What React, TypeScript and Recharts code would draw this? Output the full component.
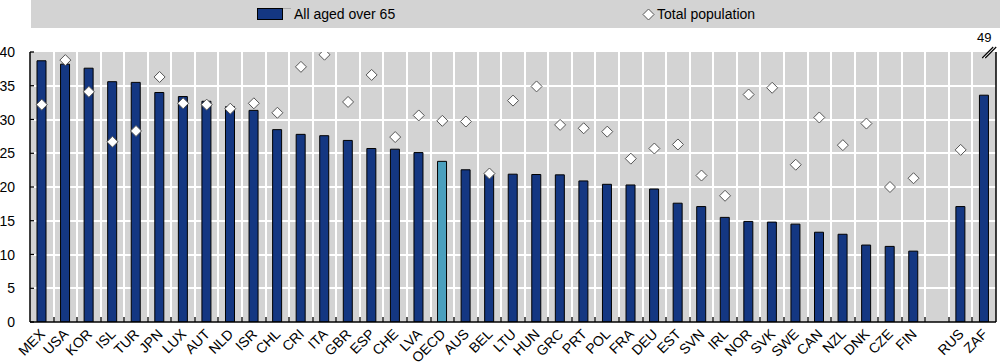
import React from 'react';
import {
  ComposedChart,
  Bar,
  Scatter,
  XAxis,
  YAxis,
  CartesianGrid,
  Cell,
  Legend,
  ReferenceDot,
} from 'recharts';

const categories = [
  'MEX', 'USA', 'KOR', 'ISL', 'TUR', 'JPN', 'LUX', 'AUT', 'NLD', 'ISR', 'CHL', 'CRI', 'ITA', 'GBR',
  'ESP', 'CHE', 'LVA', 'OECD', 'AUS', 'BEL', 'LTU', 'HUN', 'GRC', 'PRT', 'POL', 'FRA', 'DEU', 'EST',
  'SVN', 'IRL', 'NOR', 'SVK', 'SWE', 'CAN', 'NZL', 'DNK', 'CZE', 'FIN', '', 'RUS', 'ZAF',
];

const allAgedOver65: (number | null)[] = [
  38.7, 38.2, 37.6, 35.6, 35.5, 34.0, 33.4, 32.7, 31.9, 31.35, 28.5, 27.8, 27.6, 26.9,
  25.7, 25.6, 25.1, 23.8, 22.55, 22.0, 21.9, 21.85, 21.8, 20.9, 20.4, 20.3, 19.7, 17.6,
  17.1, 15.5, 14.9, 14.8, 14.5, 13.3, 13.0, 11.4, 11.2, 10.5, null, 17.1, 33.6,
];

const totalPopulation: (number | null)[] = [
  32.2, 38.8, 34.1, 26.7, 28.3, 36.3, 32.4, 32.2, 31.6, 32.4, 31.0, 37.8, 39.6, 32.6,
  36.6, 27.4, 30.6, 29.8, 29.7, 22.0, 32.8, 34.9, 29.2, 28.7, 28.2, 24.2, 25.7, 26.3,
  21.7, 18.7, 33.7, 34.7, 23.3, 30.3, 26.2, 29.4, 20.0, 21.3, null, 25.5, 49,
];

const yTicks = [0, 5, 10, 15, 20, 25, 30, 35, 40];
const Y_MAX = 40;
const highlight = 'OECD';

const NAVY = '#143782';
const TEAL = '#4ba0be';
const BG = '#d3d3d3';
const FONT = '"Liberation Sans", Arial, sans-serif';

const W = 1000;
const H = 362;
const MARGIN = { top: 52, right: 0, bottom: 0, left: 0 };
const Y_AXIS_W = 30;
const RIGHT_AXIS_W = 4;
const X_AXIS_H = 40;
const PLOT_W = W - Y_AXIS_W - RIGHT_AXIS_W;
const N = categories.length;
const HALF_BAND = PLOT_W / N / 2;

const data = categories.map((name, i) => {
  const t = totalPopulation[i];
  return {
    name,
    over65: allAgedOver65[i],
    total: t,
    totalShown: t != null && t <= Y_MAX ? t : null,
  };
});

const overflow = data.filter((d) => d.total != null && d.total > Y_MAX);
const innerYTicks = yTicks.filter((t) => t > 0 && t < Y_MAX);

const XTick = (props: any) => {
  const { x, y, payload, index } = props;
  const bx = Math.round(x - HALF_BAND);
  return (
    <g>
      {index > 0 && <line x1={bx} x2={bx} y1={y} y2={y - 5} stroke="#000" strokeWidth={1.3} />}
      {payload.value !== '' && (
        <text
          x={x + 4}
          y={y + 13}
          transform={`rotate(-45 ${x + 4} ${y + 13})`}
          textAnchor="end"
          fontSize={14}
          fontFamily={FONT}
          fill="#000"
        >
          {payload.value}
        </text>
      )}
    </g>
  );
};

const YTick = (props: any) => {
  const { x, y, payload } = props;
  return (
    <g>
      <line x1={x + 15} x2={x + 19} y1={y} y2={y} stroke="#000" strokeWidth={1.3} />
      <text x={x} y={y} dy={5} textAnchor="end" fontSize={14} fontFamily={FONT} fill="#000">
        {payload.value}
      </text>
    </g>
  );
};

const Diamond = (props: any) => {
  const { cx, cy, payload } = props;
  if (payload == null || payload.totalShown == null || !isFinite(cx) || !isFinite(cy)) return <g />;
  const r = 5.5;
  return (
    <polygon
      points={`${cx},${cy - r} ${cx + r},${cy} ${cx},${cy + r} ${cx - r},${cy}`}
      fill="#fff"
      stroke="#555"
      strokeWidth={1}
    />
  );
};

const BreakMark = (value: number) => (props: any) => {
  const { cx, cy } = props;
  return (
    <g>
      <polygon
        points={`${cx - 2},${cy + 6} ${cx + 9},${cy - 5} ${cx + 12},${cy - 5} ${cx + 1},${cy + 6}`}
        fill="#fff"
      />
      <line x1={cx - 2} y1={cy + 6} x2={cx + 9} y2={cy - 5} stroke="#000" strokeWidth={1.2} />
      <line x1={cx + 1} y1={cy + 6} x2={cx + 12} y2={cy - 5} stroke="#000" strokeWidth={1.2} />
      <text x={cx} y={cy - 10} textAnchor="middle" fontSize={13} fontFamily={FONT} fill="#000">
        {value}
      </text>
    </g>
  );
};

const LegendContent = () => (
  <div
    style={{
      position: 'relative',
      width: 969,
      height: 28,
      background: BG,
      fontFamily: FONT,
      fontSize: 14,
      color: '#000',
    }}
  >
    <div
      style={{
        position: 'absolute',
        left: 226,
        top: 8,
        width: 24,
        height: 10,
        background: NAVY,
        border: '1px solid #000',
      }}
    />
    <div style={{ position: 'absolute', left: 252, top: 8, width: 8, height: 1, background: '#aaa' }} />
    <div style={{ position: 'absolute', left: 263, top: 5, lineHeight: '18px', whiteSpace: 'nowrap' }}>
      All aged over 65
    </div>
    <svg style={{ position: 'absolute', left: 611, top: 8 }} width={13} height={13}>
      <polygon points="6.5,1 12,6.5 6.5,12 1,6.5" fill="#fff" stroke="#555" strokeWidth={1} />
    </svg>
    <div style={{ position: 'absolute', left: 626, top: 5, lineHeight: '18px', whiteSpace: 'nowrap' }}>
      Total population
    </div>
  </div>
);

export default function App() {
  return (
    <div style={{ position: 'absolute', left: 0, top: 0, width: W, height: H, background: '#fff' }}>
      <ComposedChart width={W} height={H} data={data} margin={MARGIN}>
        <CartesianGrid
          fill={BG}
          fillOpacity={1}
          stroke="#ffffff"
          strokeWidth={2}
          horizontalCoordinatesGenerator={(p: any) => {
            const top = p.offset.top;
            const height = p.offset.height;
            return innerYTicks.map((t) => Math.round(top + height * (1 - t / Y_MAX)));
          }}
          verticalCoordinatesGenerator={(p: any) => {
            const left = p.offset.left;
            const width = p.offset.width;
            const out: number[] = [];
            for (let k = 1; k < N; k++) out.push(Math.round(left + (k * width) / N));
            return out;
          }}
        />
        <XAxis
          dataKey="name"
          type="category"
          interval={0}
          height={X_AXIS_H}
          tickSize={0}
          tickMargin={0}
          tickLine={false}
          axisLine={{ stroke: '#000', strokeWidth: 1.5 }}
          tick={<XTick />}
        />
        <XAxis
          xAxisId="top"
          dataKey="name"
          orientation="top"
          height={0}
          tick={false}
          tickLine={false}
          axisLine={{ stroke: '#000', strokeWidth: 1.5 }}
        />
        <YAxis
          domain={[0, Y_MAX]}
          ticks={yTicks}
          allowDataOverflow
          width={Y_AXIS_W}
          tickSize={0}
          tickMargin={15}
          tickLine={false}
          axisLine={{ stroke: '#000', strokeWidth: 1.5 }}
          tick={<YTick />}
        />
        <YAxis
          yAxisId="right"
          orientation="right"
          domain={[0, Y_MAX]}
          width={RIGHT_AXIS_W}
          tick={false}
          tickLine={false}
          axisLine={{ stroke: '#000', strokeWidth: 1.5 }}
        />
        <Legend
          verticalAlign="middle"
          align="center"
          layout="horizontal"
          content={<LegendContent />}
          wrapperStyle={{ top: 0, left: 31, width: 969, height: 28 }}
        />
        <Bar dataKey="over65" barSize={9} stroke="#000" strokeWidth={1} isAnimationActive={false}>
          {data.map((d) => (
            <Cell key={d.name || 'gap'} fill={d.name === highlight ? TEAL : NAVY} />
          ))}
        </Bar>
        <Scatter dataKey="totalShown" shape={<Diamond />} isAnimationActive={false} />
        {overflow.map((d) => (
          <ReferenceDot
            key={d.name}
            x={d.name}
            y={Y_MAX}
            ifOverflow="visible"
            shape={BreakMark(d.total as number)}
          />
        ))}
      </ComposedChart>
    </div>
  );
}
